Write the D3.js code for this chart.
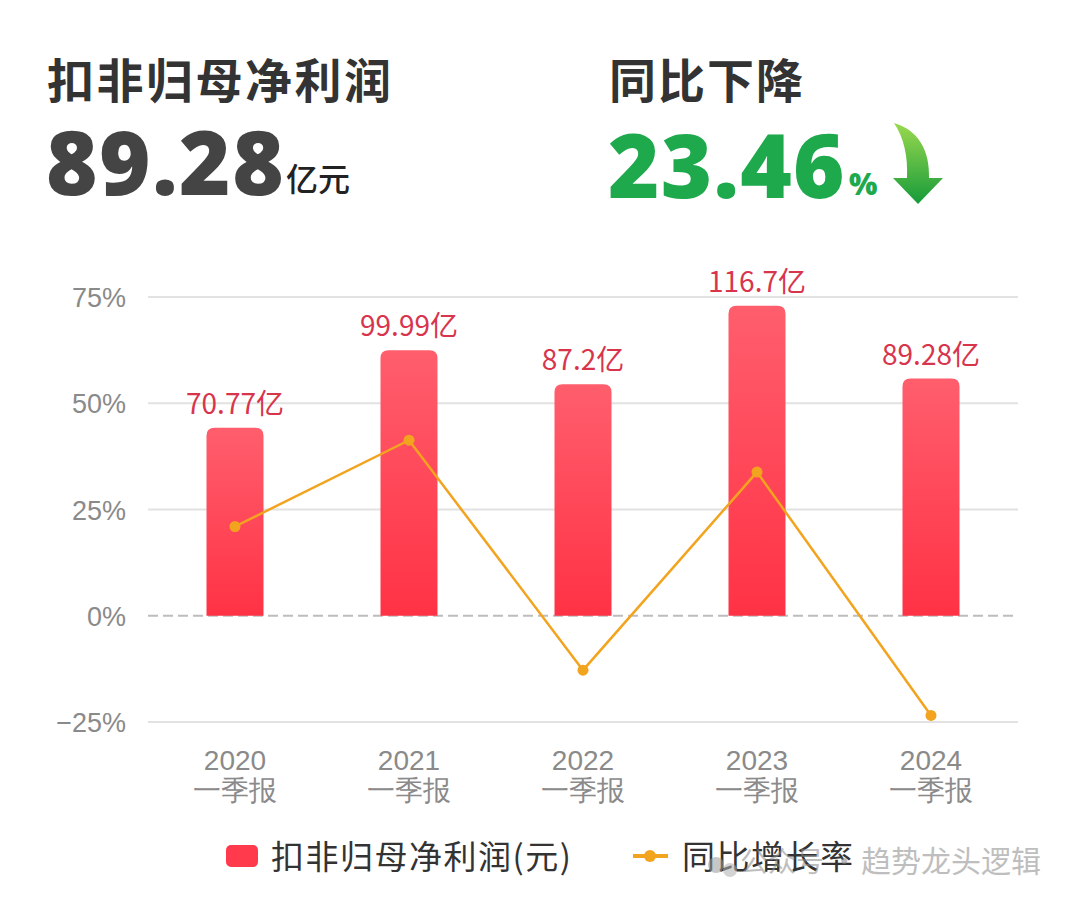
<!DOCTYPE html>
<html><head><meta charset="utf-8">
<script src="https://cdn.jsdelivr.net/npm/d3@7/dist/d3.min.js"></script>
<style>
html,body{margin:0;padding:0;background:#fff;}
svg{display:block;font-family:"Noto Sans CJK SC","Noto Sans",sans-serif;}
</style></head><body>
<svg id="c" width="1080" height="907"></svg>
<script>
const categories = ["2020", "2021", "2022", "2023", "2024"];
const periodLabel = "一季报";
const profitValues = [70.77, 99.99, 87.2, 116.7, 89.28];      // 亿元
const profitLabels = ["70.77亿", "99.99亿", "87.2亿", "116.7亿", "89.28亿"];
const growthValues = [21.0, 41.3, -12.8, 33.8, -23.46];        // %
const pctTicks = [-25, 0, 25, 50, 75];
const seriesNames = ["扣非归母净利润(元)", "同比增长率"];
const headline = {title: "扣非归母净利润", value: "89.28", unit: "亿元", title2: "同比下降", value2: "23.46", unit2: "%"};

const svg = d3.select("#c");
const defs = svg.append("defs");
const bg = defs.append("linearGradient").attr("id","barGrad").attr("x1",0).attr("y1",0).attr("x2",0).attr("y2",1);
bg.append("stop").attr("offset","0%").attr("stop-color","#FF5E6D");
bg.append("stop").attr("offset","100%").attr("stop-color","#FF3245");
const ag = defs.append("linearGradient").attr("id","arrGrad").attr("x1",0).attr("y1",0).attr("x2",0).attr("y2",1);
ag.append("stop").attr("offset","0%").attr("stop-color","#9AD94E");
ag.append("stop").attr("offset","100%").attr("stop-color","#169B3A");

// Headline
svg.append("text").attr("x",47).attr("y",98).attr("font-size",47).attr("letter-spacing",2.5).attr("font-weight",700).attr("fill","#333").text(headline.title);
svg.append("text").attr("x",46).attr("y",195).attr("font-size",88).attr("letter-spacing",1.5).attr("font-weight",900).attr("fill","#444")
  .attr("font-family","'Noto Sans','Open Sans',sans-serif").text(headline.value);
svg.append("text").attr("x",286).attr("y",191).attr("font-size",32).attr("font-weight",500).attr("fill","#222").text(headline.unit);
svg.append("text").attr("x",609).attr("y",98).attr("font-size",47).attr("letter-spacing",2).attr("font-weight",700).attr("fill","#333").text(headline.title2);
svg.append("text").attr("x",608).attr("y",198).attr("font-size",88).attr("letter-spacing",1.2).attr("font-weight",900).attr("fill","#1DA94C")
  .attr("font-family","'Noto Sans','Open Sans',sans-serif").text(headline.value2);
svg.append("text").attr("x",849).attr("y",195).attr("font-size",30).attr("font-weight",900).attr("fill","#1DA94C")
  .attr("font-family","'Noto Sans',sans-serif").text(headline.unit2);
svg.append("path").attr("fill","url(#arrGrad)")
  .attr("d","M894,123 C918,130 930,150 929,178 L943,178 L918,204 L893,178 L907,178 C908,156 904,138 894,123 Z");

// Scales
const x = d3.scaleBand().domain(categories).range([148,1018]);
const yPct = d3.scaleLinear().domain([-25,75]).range([722,297]);
const yVal = d3.scaleLinear().domain([-40,120]).range([722,297]);
const barW = 57;

// gridlines
svg.append("g").selectAll("line").data(pctTicks).join("line")
  .attr("x1",148).attr("x2",1018)
  .attr("y1",d=>yPct(d)).attr("y2",d=>yPct(d))
  .attr("stroke",d=>d===0?"#BDBDBD":"#E2E2E2").attr("stroke-width",2)
  .attr("stroke-dasharray",d=>d===0?"10,5":null);

// y axis
const yAxis = svg.append("g").attr("transform","translate(126,0)")
  .call(d3.axisLeft(yPct).tickValues(pctTicks).tickSize(0).tickPadding(0).tickFormat(d=>d3.format("")(d)+"%"));
yAxis.select(".domain").remove();
yAxis.selectAll("text").attr("font-size",27).attr("fill","#8A8A8A").attr("font-family","'Liberation Sans','Noto Sans',sans-serif").attr("dy","0.36em");

// x axis
const xAxis = svg.append("g").attr("transform","translate(0,745)")
  .call(d3.axisBottom(x).tickSize(0).tickPadding(0));
xAxis.select(".domain").remove();
xAxis.selectAll("text").attr("fill","#8A8A8A").attr("font-size",28).attr("dy",null)
  .each(function(d){
    const t = d3.select(this).text(null);
    t.append("tspan").attr("x",0).attr("y",25).attr("font-family","'Liberation Sans','Noto Sans',sans-serif").text(d);
    t.append("tspan").attr("x",0).attr("y",55).text(periodLabel);
  });

// bars
const r = 8;
svg.append("g").selectAll("path").data(profitValues).join("path")
  .attr("fill","url(#barGrad)")
  .attr("d",(d,i)=>{
    const cx = x(categories[i]) + x.bandwidth()/2;
    const x0 = cx - barW/2, x1 = cx + barW/2, y0 = yVal(0), yt = yVal(d);
    return `M${x0},${y0} L${x0},${yt+r} Q${x0},${yt} ${x0+r},${yt} L${x1-r},${yt} Q${x1},${yt} ${x1},${yt+r} L${x1},${y0} Z`;
  });
svg.append("g").selectAll("text").data(profitValues).join("text")
  .attr("x",(d,i)=>x(categories[i])+x.bandwidth()/2)
  .attr("y",d=>yVal(d)-14)
  .attr("text-anchor","middle").attr("font-size",28).attr("fill","#D8354D")
  .text((d,i)=>profitLabels[i]);

// line
const line = d3.line().x((d,i)=>x(categories[i])+x.bandwidth()/2).y(d=>yPct(d));
svg.append("path").datum(growthValues).attr("d",line).attr("fill","none").attr("stroke","#F2A41F").attr("stroke-width",2.5);
svg.append("g").selectAll("circle").data(growthValues).join("circle")
  .attr("cx",(d,i)=>x(categories[i])+x.bandwidth()/2).attr("cy",d=>yPct(d)).attr("r",5.5).attr("fill","#F2A41F");

// legend
const lg = svg.append("g");
lg.append("rect").attr("x",226).attr("y",845).attr("width",32).attr("height",22).attr("rx",5).attr("fill","#FF3A4C");
lg.append("text").attr("x",271).attr("y",869).attr("font-size",33).attr("letter-spacing",1.5).attr("fill","#333").text(seriesNames[0]);
lg.append("line").attr("x1",633).attr("x2",668).attr("y1",856).attr("y2",856).attr("stroke","#F2A41F").attr("stroke-width",4);
lg.append("circle").attr("cx",650).attr("cy",856).attr("r",6).attr("fill","#F2A41F");
lg.append("text").attr("x",682).attr("y",869).attr("font-size",33).attr("letter-spacing",1.5).attr("fill","#333").text(seriesNames[1]);

// watermark
const wm = svg.append("g").attr("opacity",0.55);
wm.append("circle").attr("cx",716).attr("cy",865).attr("r",8).attr("fill","#9A9A9A");
wm.append("circle").attr("cx",730).attr("cy",870).attr("r",7).attr("fill","#B0B0B0");
wm.append("text").attr("x",740).attr("y",872).attr("font-size",28).attr("fill","#8A8A8A").text("公众号 ·");
wm.append("text").attr("x",861).attr("y",872).attr("font-size",30).attr("fill","#8A8A8A").text("趋势龙头逻辑");
</script>
</body></html>
